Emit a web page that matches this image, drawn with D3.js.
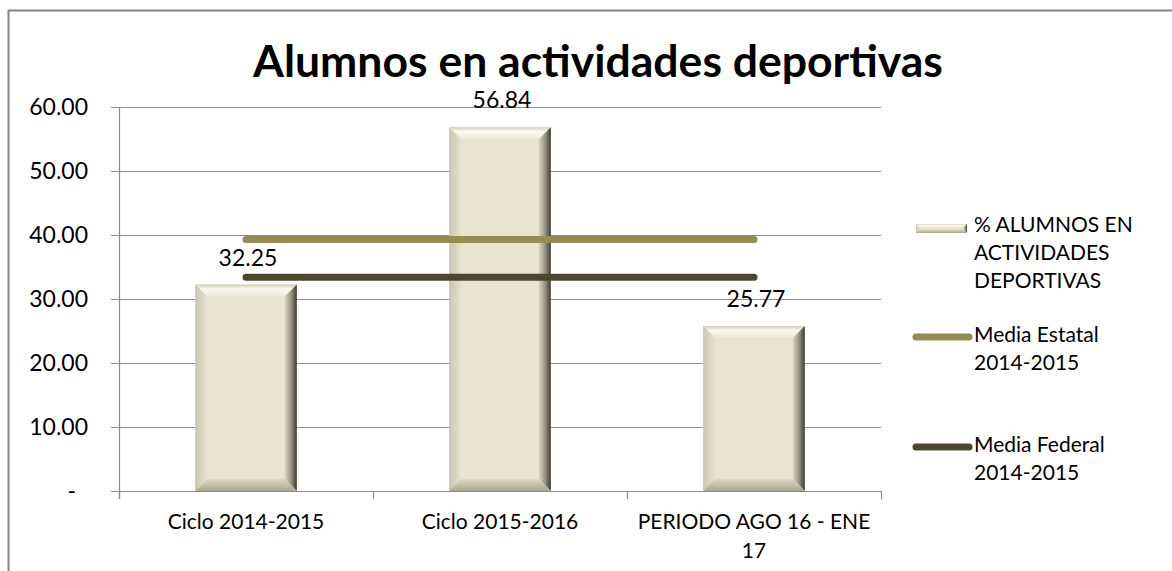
<!DOCTYPE html>
<html>
<head>
<meta charset="utf-8">
<script src="https://cdn.jsdelivr.net/npm/d3@7"></script>
<style>
  html, body { margin: 0; padding: 0; background: #fff; }
  svg { display: block; }
  text { font-family: Lato, "Open Sans", "Liberation Sans", sans-serif; fill: #000; }
</style>
</head>
<body>
<svg id="chart" width="1172" height="571"></svg>
<script>
// ---- data ----
const title = "Alumnos en actividades deportivas";
const categories = ["Ciclo 2014-2015", "Ciclo 2015-2016", "PERIODO AGO 16 - ENE 17"];
const categoryLines = [["Ciclo 2014-2015"], ["Ciclo 2015-2016"], ["PERIODO AGO 16 - ENE", "17"]];
const alumnos = [32.25, 56.84, 25.77];
const mediaEstatal = [39.3, 39.3, 39.3];
const mediaFederal = [33.4, 33.4, 33.4];
const yTicks = [0, 10, 20, 30, 40, 50, 60];
const yTickLabels = ["-", "10.00", "20.00", "30.00", "40.00", "50.00", "60.00"];
const legendLabels = [
  ["% ALUMNOS EN", "ACTIVIDADES", "DEPORTIVAS"],
  ["Media Estatal", "2014-2015"],
  ["Media Federal", "2014-2015"]
];

// ---- layout ----
const svg = d3.select("#chart");
const plot = { left: 119, right: 881, top: 107, bottom: 491 };
const x = d3.scaleBand().domain(categories).range([plot.left, plot.right]).padding(0);
const y = d3.scaleLinear().domain([0, 60]).range([plot.bottom, plot.top]);
const barW = x.bandwidth() * 0.4;
const cx = c => x(c) + x.bandwidth() / 2;

const colEstatal = "#958B55";
const colFederal = "#4D4730";
const gridCol = "#8C8C8C";

svg.append("rect").attr("width", 1172).attr("height", 571).attr("fill", "#fff");

// outer chart border (only top & left visible)
svg.append("path")
  .attr("d", "M8.5,571 L8.5,10.5 L1172,10.5")
  .attr("fill", "none").attr("stroke", "#868686").attr("stroke-width", 2);

// title
svg.append("text")
  .attr("x", 598).attr("y", 77)
  .attr("text-anchor", "middle")
  .attr("font-size", 44.5).attr("font-weight", "bold")
  .text(title);

// gradients for bevel
const defs = svg.append("defs");
function grad(id, x1, y1, x2, y2, stops) {
  const g = defs.append("linearGradient").attr("id", id)
    .attr("x1", x1).attr("y1", y1).attr("x2", x2).attr("y2", y2);
  stops.forEach(s => g.append("stop").attr("offset", s[0]).attr("stop-color", s[1]));
}
grad("gTop", 0, 0, 0, 1, [[0, "#CFCCB8"], [0.35, "#FBFAF0"], [1, "#ECE8D4"]]);
grad("gRight", 0, 0, 1, 0, [[0, "#D8D4BF"], [0.5, "#9B9886"], [1, "#3C3B32"]]);
grad("gLeft", 0, 0, 1, 0, [[0, "#C9C6B2"], [1, "#E6E2CC"]]);
grad("gBottom", 0, 0, 0, 1, [[0, "#DCD8C3"], [1, "#A9A693"]]);

// gridlines + y ticks
const yAxisG = svg.append("g");
yTicks.forEach((t, i) => {
  const yy = Math.round(y(t)) + 0.5;
  yAxisG.append("line")
    .attr("x1", plot.left - 8).attr("x2", plot.right)
    .attr("y1", yy).attr("y2", yy)
    .attr("stroke", gridCol).attr("stroke-width", 1.2);
  yAxisG.append("text")
    .attr("x", t === 0 ? 76 : 88).attr("y", y(t) + 8)
    .attr("text-anchor", "end")
    .attr("font-size", 23)
    .text(yTickLabels[i]);
});

// y axis line
svg.append("line")
  .attr("x1", plot.left + 0.5).attr("x2", plot.left + 0.5)
  .attr("y1", plot.top).attr("y2", plot.bottom + 8)
  .attr("stroke", gridCol).attr("stroke-width", 1.2);

// x ticks
const xTickPos = [plot.left, ...categories.map(c => x(c) + x.bandwidth())];
xTickPos.forEach(p => {
  svg.append("line")
    .attr("x1", Math.round(p) + 0.5).attr("x2", Math.round(p) + 0.5)
    .attr("y1", plot.bottom).attr("y2", plot.bottom + 8)
    .attr("stroke", gridCol).attr("stroke-width", 1.2);
});

// category labels
categories.forEach((c, i) => {
  const t = svg.append("text")
    .attr("x", cx(c)).attr("y", 529)
    .attr("text-anchor", "middle").attr("font-size", 21);
  categoryLines[i].forEach((ln, j) => {
    t.append("tspan").attr("x", cx(c)).attr("dy", j === 0 ? 0 : 29).text(ln);
  });
});

// beveled bars
function bevelBar(g, x0, y0, w, h, b) {
  const x1 = x0 + w, y1 = y0 + h;
  const bb = Math.min(b, w / 2, h / 2);
  g.append("rect").attr("x", x0).attr("y", y0).attr("width", w).attr("height", h).attr("fill", "#E9E4CF");
  g.append("polygon").attr("points", `${x0},${y0} ${x1},${y0} ${x1 - bb},${y0 + bb} ${x0 + bb},${y0 + bb}`).attr("fill", "url(#gTop)");
  g.append("polygon").attr("points", `${x1},${y0} ${x1},${y1} ${x1 - bb},${y1 - bb} ${x1 - bb},${y0 + bb}`).attr("fill", "url(#gRight)");
  g.append("polygon").attr("points", `${x0},${y0} ${x0 + bb},${y0 + bb} ${x0 + bb},${y1 - bb} ${x0},${y1}`).attr("fill", "url(#gLeft)");
  g.append("polygon").attr("points", `${x0},${y1} ${x0 + bb},${y1 - bb} ${x1 - bb},${y1 - bb} ${x1},${y1}`).attr("fill", "url(#gBottom)");
}

const barsG = svg.append("g");
categories.forEach((c, i) => {
  const x0 = cx(c) - barW / 2;
  const y0 = y(alumnos[i]);
  bevelBar(barsG.append("g"), x0, y0, barW, y(0) - y0, 12);
});

// lines
const line = d3.line().x((d, i) => cx(categories[i])).y(d => y(d));
[[mediaEstatal, colEstatal], [mediaFederal, colFederal]].forEach(([vals, col]) => {
  svg.append("path").datum(vals)
    .attr("d", line)
    .attr("fill", "none").attr("stroke", col)
    .attr("stroke-width", 7).attr("stroke-linecap", "round");
});

// data labels
categories.forEach((c, i) => {
  svg.append("text")
    .attr("x", cx(c) + 2).attr("y", y(alumnos[i]) - 19)
    .attr("text-anchor", "middle").attr("font-size", 23)
    .text(alumnos[i].toFixed(2));
});

// legend
const legX = 974;
const legG = svg.append("g");
// bar entry
legG.append("rect").attr("x", 916).attr("y", 224).attr("width", 51).attr("height", 9).attr("fill", "#BDB9A3");
bevelBar(legG.append("g"), 916, 224, 51, 9, 3.5);
const legStart = [232, 342, 452];
legendLabels.forEach((lines, i) => {
  const t = legG.append("text").attr("x", legX).attr("y", legStart[i]).attr("font-size", 21);
  lines.forEach((ln, j) => t.append("tspan").attr("x", legX).attr("dy", j === 0 ? 0 : 28).text(ln));
});
legG.append("line").attr("x1", 916).attr("x2", 969).attr("y1", 337).attr("y2", 337)
  .attr("stroke", colEstatal).attr("stroke-width", 7).attr("stroke-linecap", "round");
legG.append("line").attr("x1", 916).attr("x2", 969).attr("y1", 447).attr("y2", 447)
  .attr("stroke", colFederal).attr("stroke-width", 7).attr("stroke-linecap", "round");
</script>
</body>
</html>
